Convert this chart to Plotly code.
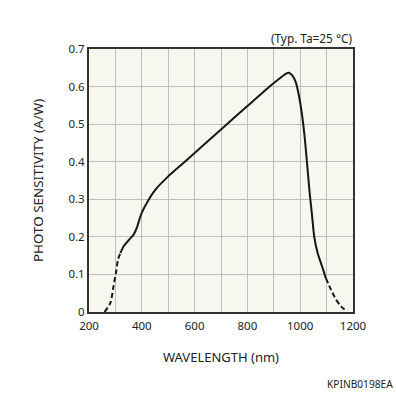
import plotly.graph_objects as go

# Data
wl_dash_left = [259, 281, 293, 302, 310, 319]
val_dash_left = [0.0, 0.024, 0.069, 0.104, 0.140, 0.157]

wl_solid = [319, 331, 350, 369, 382, 392, 401, 426, 451, 500, 550, 600, 700, 800,
            881, 919, 945, 957, 970, 983, 996, 1008, 1018, 1027, 1036, 1044, 1053,
            1066, 1085, 1097]
val_solid = [0.157, 0.175, 0.191, 0.206, 0.226, 0.249, 0.266, 0.299, 0.325, 0.361,
             0.392, 0.423, 0.486, 0.548, 0.598, 0.620, 0.634, 0.637, 0.630, 0.612,
             0.573, 0.519, 0.458, 0.387, 0.316, 0.263, 0.201, 0.157, 0.117, 0.090]

wl_dash_right = [1097, 1117, 1136, 1155, 1174]
val_dash_right = [0.090, 0.059, 0.033, 0.015, 0.003]

x_grid = list(range(200, 1201, 100))
x_labels = [str(v) if v % 200 == 0 else "" for v in x_grid]
y_grid = [0, 0.1, 0.2, 0.3, 0.4, 0.5, 0.6, 0.7]
y_labels = ["0", "0.1", "0.2", "0.3", "0.4", "0.5", "0.6", "0.7"]

FONT = "Noto Sans"
LINE = "#161616"
TXT = "#222222"

W, H = 396, 396
L, R, T, B = 89, 43, 49, 84
PW, PH = W - L - R, H - T - B


def px_to_paper(xp, yp):
    """pixel position from top-left -> paper coordinates"""
    return (xp - L) / PW, (H - yp - B) / PH


fig = go.Figure()
fig.add_trace(go.Scatter(x=wl_dash_left, y=val_dash_left, mode="lines",
                         line=dict(color=LINE, width=2, dash="5px,3px", shape="spline", smoothing=0.6),
                         hoverinfo="skip", showlegend=False))
fig.add_trace(go.Scatter(x=wl_solid, y=val_solid, mode="lines",
                         line=dict(color=LINE, width=2, shape="spline", smoothing=0.6),
                         hoverinfo="skip", showlegend=False))
fig.add_trace(go.Scatter(x=wl_dash_right, y=val_dash_right, mode="lines",
                         line=dict(color=LINE, width=2, dash="5px,3px", shape="spline", smoothing=0.6),
                         hoverinfo="skip", showlegend=False))

annots = []
for text, (xp, yp), size, angle, xa in [
    ("PHOTO SENSITIVITY (A/W)", (38, 181), 13.4, -90, "center"),
    ("WAVELENGTH (nm)", (221, 357), 13, 0, "center"),
    ("KPINB0198EA", (395, 384), 10.2, 0, "right"),
    ("(Typ. Ta=25 °C)", (354, 38), 11.8, 0, "right"),
]:
    xx, yy = px_to_paper(xp, yp)
    annots.append(dict(text=text, x=xx, y=yy, xref="paper", yref="paper",
                       showarrow=False, textangle=angle,
                       font=dict(size=size, family=FONT, color=TXT),
                       xanchor=xa, yanchor="middle"))

fig.update_layout(
    width=W, height=H,
    margin=dict(l=L, r=R, t=T, b=B),
    paper_bgcolor="white",
    plot_bgcolor="#f7f6ef",
    font=dict(family=FONT, size=11.5, color=TXT),
    xaxis=dict(range=[200, 1200], tickmode="array", tickvals=x_grid, ticktext=x_labels,
               showgrid=True, gridcolor="#bdbdbd", gridwidth=1, zeroline=False,
               showline=True, mirror=True, linecolor="#333333", linewidth=2,
               ticks="", ticklabelstandoff=2, fixedrange=True),
    yaxis=dict(range=[0, 0.7], tickmode="array", tickvals=y_grid, ticktext=y_labels,
               showgrid=True, gridcolor="#bdbdbd", gridwidth=1, zeroline=False,
               showline=True, mirror=True, linecolor="#333333", linewidth=2,
               ticks="", fixedrange=True),
    annotations=annots,
)

fig.write_html("out.html", config={"displayModeBar": False},
               post_script="document.body.style.margin='0px';")
